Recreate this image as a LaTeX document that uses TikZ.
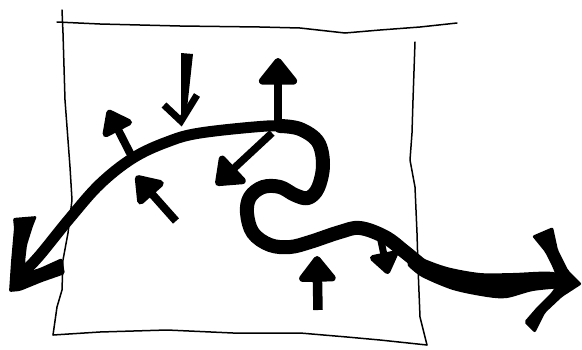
\documentclass[tikz,border=0pt]{standalone}
\usepackage{tikz}
\usetikzlibrary{arrows.meta}

\begin{document}
\begin{tikzpicture}[
    x=1pt, y=-1pt,
    frame/.style={draw, line width=1.5pt, line join=round, line cap=round},
    flow/.style={draw, line width=11pt, line cap=round, line join=round},
    head/.style={fill, rounded corners=2pt},
    push/.style={line width=8pt, -{Triangle[length=28pt, width=42pt, round]}},
    barbs/.style={line width=7pt, line join=miter}
]
\fill[white] (0,0) rectangle (582,349);

\draw[frame] (57,22) -- (100,24) -- (180,26) -- (260,27) -- (300,28) -- (345,33) -- (380,30) -- (420,27) -- (457,23);
\draw[frame] (62,10) -- (63,33) -- (65,100) -- (70,167) -- (72,200) -- (68,233) -- (63,260) -- (62,290) -- (57,307) -- (53,335);
\draw[frame] (53,335) -- (100,332) -- (167,330) -- (233,333) -- (300,333) -- (347,337) -- (380,340) -- (427,345);
\draw[frame] (415,42) -- (413,100) -- (412,133) -- (410,160) -- (415,187) -- (417,233) -- (418,267) -- (420,317) -- (427,345);

\draw[flow] plot[smooth, tension=0.6] coordinates {(24,272) (40,255) (70,218) (100,184) (133,158) (167,142) (200,133) (267,126) (292,127)};
\draw[flow, line width=14pt] plot[smooth, tension=0.6] coordinates {(280,126) (300,129) (318,142) (323,165) (318,188) (308,198) (295,195) (280,187) (263,187) (250,197) (247,213) (253,233) (270,245) (290,247) (310,242) (340,232) (360,228) (385,237) (405,252) (422,266)};
\fill plot[smooth] coordinates {(405,248) (420,257) (447,267) (480,273) (513,273) (553,272) (578,282)}
  -- plot[smooth] coordinates {(563,288) (533,291) (507,298) (487,297) (453,290) (422,277) (408,266)} -- cycle;

\fill[head] (9,292) -- (11,262) -- (14,228) -- (13,218) -- (37,216) -- (33,226) -- (27,245) -- (25,262) -- (27,272)
  -- (40,268) -- (62,258) -- (65,274) -- (42,282) -- (20,291) -- cycle;
\fill[head] (582,284) -- (568,270) -- (558,250) -- (553,227) -- (532,236) -- (545,252) -- (553,268) -- (558,282)
  -- (552,292) -- (537,307) -- (524,322) -- (535,333) -- (545,313) -- (562,297) -- cycle;

\fill (181,53) -- (193,54) -- (186,118) -- (181,118) -- cycle;
\draw[barbs] (164,105) -- (181,121) -- (197,95);
\draw[push, -{Triangle[length=26pt, width=37pt, round]}] (131,155) -- (108,110);
\draw[push, -{Triangle[length=29pt, width=44pt, round]}] (278,124) -- (278,58);
\draw[push, line width=7.5pt] (272,133) -- (216,185);
\draw[push, -{Triangle[length=28pt, width=38pt, round]}] (176,221) -- (136,176);
\draw[push, line width=9.5pt] (318,310) -- (317,256);
\draw[push, line width=7pt, -{Triangle[length=24pt, width=33pt, round]}] (380,236) -- (388,274);
\end{tikzpicture}
\end{document}
